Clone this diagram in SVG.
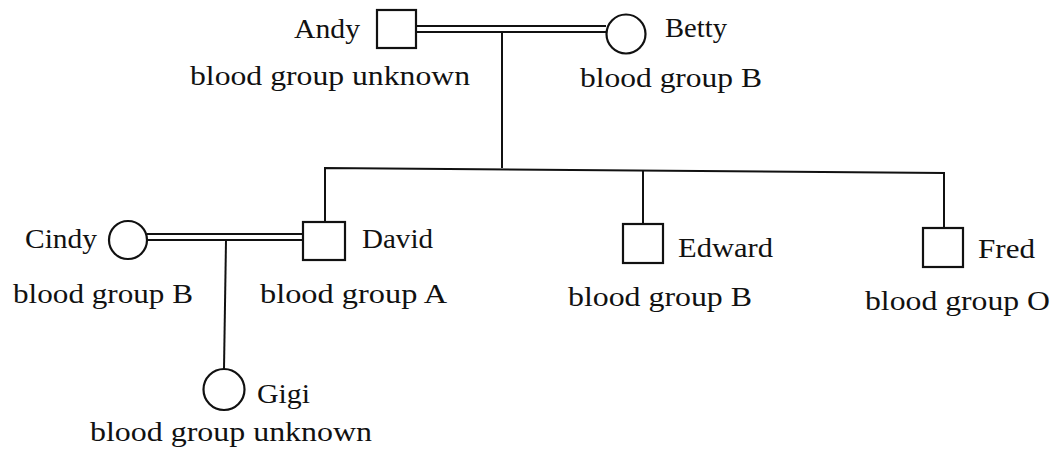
<svg xmlns="http://www.w3.org/2000/svg" width="1058" height="454" viewBox="0 0 1058 454">
<style>
.sym{fill:#fff;stroke:#111;stroke-width:2.2}
.ln{fill:none;stroke:#111;stroke-width:2}
text{font-family:"Liberation Serif","Times New Roman",serif;font-size:28px;fill:#111}
</style>
<rect width="1058" height="454" fill="#fff"/>
<g id="connectors">
<path class="ln" d="M416,26 H606 M416,32 H606"/>
<path class="ln" d="M502,32 V168"/>
<path class="ln" d="M325,222 V168 L944,173 V228"/>
<path class="ln" d="M643,170.5 V224"/>
<path class="ln" d="M147,234 H303 M147,240 H303"/>
<path class="ln" d="M226,240 L224,369"/>
</g>
<g id="andy">
<rect class="sym" x="377" y="10" width="39" height="38"/>
<text x="294" y="38" textLength="66" lengthAdjust="spacingAndGlyphs">Andy</text>
<text x="190" y="85" textLength="280" lengthAdjust="spacingAndGlyphs">blood group unknown</text>
</g>
<g id="betty">
<circle class="sym" cx="626" cy="34" r="19.5"/>
<text x="665" y="37" textLength="62" lengthAdjust="spacingAndGlyphs">Betty</text>
<text x="580" y="87" textLength="182" lengthAdjust="spacingAndGlyphs">blood group B</text>
</g>
<g id="cindy">
<circle class="sym" cx="128" cy="240" r="19"/>
<text x="25" y="248" textLength="72" lengthAdjust="spacingAndGlyphs">Cindy</text>
<text x="13" y="303" textLength="180" lengthAdjust="spacingAndGlyphs">blood group B</text>
</g>
<g id="david">
<rect class="sym" x="303" y="222" width="42" height="38"/>
<text x="362" y="248" textLength="71" lengthAdjust="spacingAndGlyphs">David</text>
<text x="260" y="303" textLength="187" lengthAdjust="spacingAndGlyphs">blood group A</text>
</g>
<g id="edward">
<rect class="sym" x="623" y="224" width="40" height="39"/>
<text x="678" y="257" textLength="95" lengthAdjust="spacingAndGlyphs">Edward</text>
<text x="568" y="306" textLength="184" lengthAdjust="spacingAndGlyphs">blood group B</text>
</g>
<g id="fred">
<rect class="sym" x="923" y="228" width="40" height="39"/>
<text x="978" y="258" textLength="57" lengthAdjust="spacingAndGlyphs">Fred</text>
<text x="865" y="310" textLength="185" lengthAdjust="spacingAndGlyphs">blood group O</text>
</g>
<g id="gigi">
<circle class="sym" cx="224" cy="389.5" r="20.5"/>
<text x="257" y="403" textLength="53" lengthAdjust="spacingAndGlyphs">Gigi</text>
<text x="90" y="441" textLength="282" lengthAdjust="spacingAndGlyphs">blood group unknown</text>
</g>
</svg>
